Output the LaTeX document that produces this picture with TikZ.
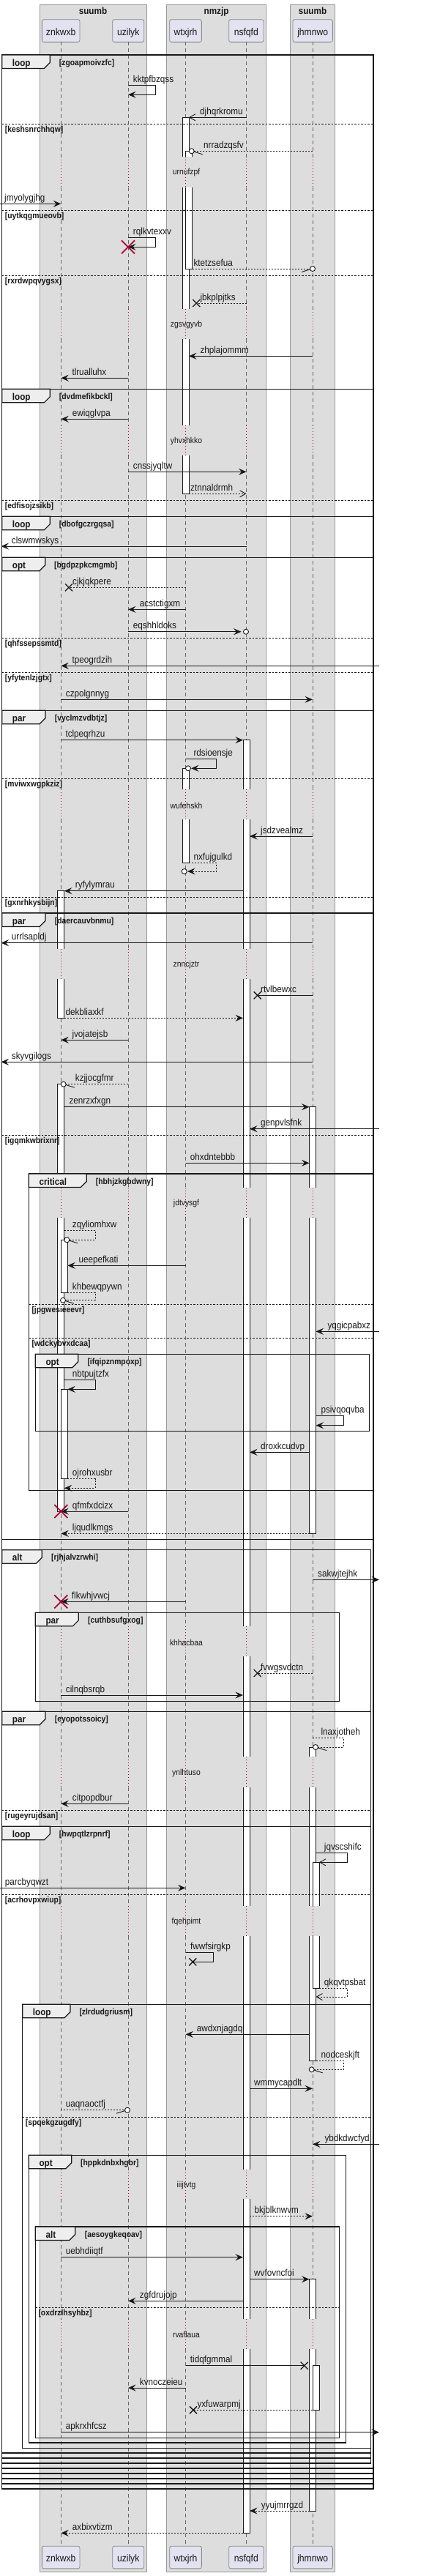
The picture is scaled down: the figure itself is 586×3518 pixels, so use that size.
\documentclass[tikz,border=0pt]{standalone}
\usepackage{fontspec}
\setmainfont{Liberation Sans}[FakeStretch=0.9]
\usetikzlibrary{arrows.meta}
\definecolor{boxfill}{HTML}{DDDDDD}
\definecolor{boxline}{HTML}{999999}
\definecolor{partfill}{HTML}{E2E2F0}
\definecolor{partline}{HTML}{888888}
\definecolor{tabfill}{HTML}{EEEEEE}
\definecolor{lifecol}{HTML}{666666}
\definecolor{delaycol}{HTML}{A80036}
\definecolor{ink}{HTML}{181818}
\tikzset{
  lbl/.style={anchor=base west, inner sep=0pt, text=ink, font=\fontsize{13}{15}\selectfont},
  part/.style={draw=partline, fill=partfill, rounded corners=2.5pt, minimum height=30.7pt, inner sep=0pt, text height=12pt, text depth=0pt, font=\fontsize{13.5}{15}\selectfont, text=ink, line width=0.8pt},
  grptitle/.style={anchor=base, inner sep=0pt, font=\bfseries\fontsize{13}{15}\selectfont, text=ink},
  kw/.style={anchor=base west, inner sep=0pt, font=\bfseries\fontsize{13}{15}\selectfont, text=ink},
  guard/.style={anchor=base west, inner sep=0pt, font=\bfseries\fontsize{11.5}{13}\selectfont, text=ink},
  delaytxt/.style={inner sep=0pt, font=\fontsize{11.5}{13}\selectfont, text=ink},
  frameline/.style={draw=ink, line width=1.4pt},
  tabline/.style={draw=ink, line width=1.2pt, fill=tabfill},
  sepline/.style={draw=ink, line width=0.8pt, dash pattern=on 2.5pt off 2pt},
  lifeline/.style={draw=lifecol, line width=0.8pt, dash pattern=on 5pt off 4pt},
  delayline/.style={draw=delaycol, line width=0.9pt, dash pattern=on 1pt off 3pt},
  actbar/.style={draw=ink, fill=white, line width=0.9pt},
  msgline/.style={draw=ink, line width=0.9pt},
  dsh/.style={dash pattern=on 2pt off 2pt},
  fa/.style={-{Stealth[length=10.5pt,width=9pt,inset=4pt]}},
  oa/.style={-{Straight Barb[length=8pt,width=9pt]}},
}
\newcommand\mymsg[7]{%
  \coordinate (#1s) at (#2,#4);
  \coordinate (#1e) at (#3,#4);
  \draw[msgline,#5] (#1s) -- (#1e);
  \node[lbl] (#1l) at (#6,#4-4) {#7};
}
\newcommand\selfmsg[9]{%
  \coordinate (#1s) at (#2,#5);
  \coordinate (#1a) at (#3,#5);
  \coordinate (#1b) at (#3,#6);
  \coordinate (#1e) at (#4,#6);
  \draw[msgline,#7] (#1s) -- (#1a) -- (#1b) -- (#1e);
  \node[lbl] (#1l) at (#8,#5-4) {#9};
}
\newcommand\xmk[3]{%
  \coordinate (#1) at (#2,#3);
  \draw[msgline, line width=1.3pt] (#2-5,#3-5) -- (#2+5,#3+5) (#2-5,#3+5) -- (#2+5,#3-5);
}
\newcommand\redx[2]{\draw[draw=delaycol, line width=1.8pt] (#1-9,#2-9) -- (#1+9,#2+9) (#1-9,#2+9) -- (#1+9,#2-9);}
\newcommand\ocmk[2]{\draw[msgline, fill=white] (#1,#2) circle[radius=3.5];}
\newcommand\hbarb[3]{\draw[msgline] ({#1+#3*3.2},{#2+0.8}) -- ({#1+#3*15},{#2+4.5});}
\newcommand\abF[4]{\draw[actbar] (#1,#3) rectangle (#2,#4);}
\newcommand\abT[4]{\fill[white] (#1,#3) rectangle (#2,#4); \draw[actbar] (#1,#4) -- (#1,#3) -- (#2,#3) -- (#2,#4);}
\newcommand\abB[4]{\fill[white] (#1,#3) rectangle (#2,#4); \draw[actbar] (#1,#3) -- (#1,#4) -- (#2,#4) -- (#2,#3);}
\newcommand\abN[4]{\fill[white] (#1,#3) rectangle (#2,#4); \draw[actbar] (#1,#3) -- (#1,#4) (#2,#3) -- (#2,#4);}
\newcommand\myframe[9]{%
  \draw[frameline] (#2,#3) rectangle (#4,#5);
  \draw[tabline] (#2,#3) -- (#6,#3) -- (#6,#3+10.5) -- (#6-8,#3+18.5) -- (#2,#3+18.5) -- cycle;
  \node[kw] (#1k) at (#2+14,#3+15) {#7};
  \node[guard] (#1g) at (#8,#3+14) {#9};
}
\newcommand\frsep[5]{%
  \draw[sepline] (#2,#4) -- (#3,#4);
  \node[guard] (#1) at (#2+4,#4+11) {#5};
}
\begin{document}
\begin{tikzpicture}[x=1pt,y=-1pt]
\useasboundingbox (0,0) rectangle (586,3518);
\fill[white] (0,0) rectangle (586,3518);
% group boxes
\path[draw=boxline, fill=boxfill, line width=0.8pt] (54,6) rectangle (200,3512.7);
\path[draw=boxline, fill=boxfill, line width=0.8pt] (227.7,6) rectangle (363.3,3512.7);
\path[draw=boxline, fill=boxfill, line width=0.8pt] (396.3,6) rectangle (457.7,3512.7);
\node[grptitle] (g1) at (127,19.5) {suumb};
\node[grptitle] (g2) at (295.5,19.5) {nmzjp};
\node[grptitle] (g3) at (427,19.5) {suumb};
% participants
\node[part, minimum width=51.7pt] (pZt) at (83.2,42) {znkwxb};
\node[part, minimum width=43pt] (pUt) at (175.2,42) {uzilyk};
\node[part, minimum width=43.7pt] (pWt) at (253.5,42) {wtxjrh};
\node[part, minimum width=47.3pt] (pNt) at (336.3,42) {nsfqfd};
\node[part, minimum width=54.3pt] (pJt) at (427.2,42) {jhmnwo};
\node[part, minimum width=51.7pt] (pZb) at (83.2,3492.5) {znkwxb};
\node[part, minimum width=43pt] (pUb) at (175.2,3492.5) {uzilyk};
\node[part, minimum width=43.7pt] (pWb) at (253.5,3492.5) {wtxjrh};
\node[part, minimum width=47.3pt] (pNb) at (336.3,3492.5) {nsfqfd};
\node[part, minimum width=54.3pt] (pJb) at (427.2,3492.5) {jhmnwo};
% lifelines
\foreach \x in {83.3,175,253.5,336.5,427}{
  \foreach \a/\b in {57.3/214.3,256/422.3,463.3/580.7,621.7/1078.3,1119.3/1295.7,1336.7/1621.7,1663.3/2221,2262.3/2399.3,2440.7/2602.7,2644.3/2962.7,3003.3/3166.7,3208.3/3476.7}{
    \draw[lifeline] (\x,\a) -- (\x,\b);
  }
  \foreach \a/\b in {214.3/256,422.3/463.3,580.7/621.7,1078.3/1119.3,1295.7/1336.7,1621.7/1663.3,2221/2262.3,2399.3/2440.7,2602.7/2644.3,2962.7/3003.3,3166.7/3208.3}{
    \draw[delayline] (\x,\a) -- (\x,\b);
  }
}
% activation bars
\abT{249}{258}{160.3}{214.3}
\abN{249}{258}{256}{422.3}
\abN{249}{258}{463.3}{580.7}
\abB{249}{258}{621.7}{674.3}
\abT{253.5}{262.5}{206.3}{214.3}
\abB{253.5}{262.5}{256}{367}
\abT{249}{258}{1049.3}{1078.3}
\abB{249}{258}{1119.3}{1178.3}
\abT{332}{341}{1010.7}{1078.3}
\abN{332}{341}{1119.3}{1295.7}
\abN{332}{341}{1336.7}{1621.7}
\abN{332}{341}{1663.3}{2221}
\abN{332}{341}{2262.3}{2399.3}
\abN{332}{341}{2440.7}{2602.7}
\abN{332}{341}{2644.3}{2962.7}
\abN{332}{341}{3003.3}{3166.7}
\abB{332}{341}{3208.3}{3459.3}
\abT{78.8}{87.8}{1216.7}{1295.7}
\abB{78.8}{87.8}{1336.7}{1390.3}
\abT{78.8}{87.8}{1480.7}{1621.7}
\abB{78.8}{87.8}{1663.3}{2064}
\abF{83.3}{92.3}{1693.3}{1765}
\abF{83.3}{92.3}{1897.3}{2019.7}
\abT{422.5}{431.5}{1511.7}{1621.7}
\abB{422.5}{431.5}{1663.3}{2094.3}
\abT{422.5}{431.5}{2386}{2399.3}
\abN{422.5}{431.5}{2440.7}{2602.7}
\abB{422.5}{431.5}{2644.3}{2814.3}
\abT{422.5}{431.5}{3112.7}{3166.7}
\abB{422.5}{431.5}{3208.3}{3429}
\abT{427}{436}{2543.3}{2602.7}
\abB{427}{436}{2644.3}{2715}
\abF{427}{436}{3230.7}{3291.3}
% frames
\myframe{f1}{2.7}{75}{510}{3399}{68.3}{loop}{80.7}{[zgoapmoivzfc]}
\myframe{f2}{2.7}{531.3}{510}{3392}{68.3}{loop}{80.7}{[dvdmefikbckl]}
\myframe{f3}{2.7}{705.3}{510}{3385}{68.3}{loop}{80.7}{[dbofgczrgqsa]}
\myframe{f4}{2.7}{761.3}{510}{3378}{61.7}{opt}{74}{[bgdpzpkcmgmb]}
\myframe{f5}{2.7}{970.3}{510}{3371}{62}{par}{74.7}{[vyclmzvdbtjz]}
\myframe{f6}{2.7}{1247}{510}{2102.3}{62}{par}{74.7}{[daercauvbnmu]}
\myframe{f7}{39.3}{1603}{510}{2035.7}{118.3}{critical}{130.7}{[hbhjzkgbdwny]}
\myframe{f8}{48.3}{1849.3}{504.3}{1954.3}{106.7}{opt}{119.3}{[ifqipznmpoxp]}
\myframe{f9}{2.7}{2116.7}{506.7}{3364}{57.3}{alt}{70}{[rjhjalvzrwhi]}
\myframe{f10}{48.3}{2202.3}{463.3}{2323.3}{107.3}{par}{120}{[cuthbsufgxog]}
\myframe{f11}{2.7}{2337.3}{506.7}{3357}{62}{par}{74.7}{[eyopotssoicy]}
\myframe{f12}{2.7}{2494.3}{506.7}{3350}{68.3}{loop}{80.7}{[hwpqtlzrpnrf]}
\myframe{f13}{30.7}{2737.3}{506.7}{3343.3}{96}{loop}{108.3}{[zlrdudgriusm]}
\myframe{f14}{39.3}{2943.3}{472.7}{3336}{97.7}{opt}{110}{[hppkdnbxhgbr]}
\myframe{f15}{48.3}{3041}{463.3}{3329.3}{102.7}{alt}{115.7}{[aesoygkeqoav]}
% separators
\frsep{s1}{2.7}{510}{169.3}{[keshsnrchhqw]}
\frsep{s2}{2.7}{510}{287}{[uytkqgmueovb]}
\frsep{s3}{2.7}{510}{376}{[rxrdwpqvygsx]}
\frsep{s4}{2.7}{510}{683.3}{[edfisojzsikb]}
\frsep{s5}{2.7}{510}{871}{[qhfssepssmtd]}
\frsep{s6}{2.7}{510}{918.3}{[yfytenlzjgtx]}
\frsep{s7}{2.7}{510}{1063.3}{[mviwxwgpkziz]}
\frsep{s8}{2.7}{510}{1225.3}{[gxnrhkysbijn]}
\frsep{s9}{2.7}{510}{1550.3}{[igqmkwbrixnr]}
\frsep{s10}{39.3}{510}{1781.3}{[jpgwesieeevr]}
\frsep{s11}{39.3}{510}{1827.3}{[wdckybvxdcaa]}
\frsep{s12}{2.7}{506.7}{2472.3}{[rugeyrujdsan]}
\frsep{s13}{2.7}{506.7}{2587.7}{[acrhovpxwiup]}
\frsep{s14}{30.7}{506.7}{2891.3}{[spqekgzugdfy]}
\frsep{s15}{48.3}{463.3}{3151.3}{[oxdrzlhsyhbz]}
% delay texts
\node[delaytxt] (d1) at (254.5,236) {urnufzpf};
\node[delaytxt] (d2) at (254.5,444) {zgsvgyvb};
\node[delaytxt] (d3) at (254.5,602.3) {yhvxhkko};
\node[delaytxt] (d4) at (254.5,1100) {wufehskh};
\node[delaytxt] (d5) at (254.5,1317.3) {znncjztr};
\node[delaytxt] (d6) at (254.5,1643.3) {jdtvysgf};
\node[delaytxt] (d7) at (254.5,2243.3) {khhacbaa};
\node[delaytxt] (d8) at (254.5,2421) {ynlhtuso};
\node[delaytxt] (d9) at (254.5,2624.3) {fqehpimt};
\node[delaytxt] (d10) at (254.5,2984.3) {iiijtvtg};
\node[delaytxt] (d11) at (254.5,3188.3) {rvaflaua};
% messages
\selfmsg{m1}{175}{212.7}{175}{116.3}{129.3}{fa}{181.7}{kktpfbzqss}
\mymsg{m2}{336.5}{258}{160.3}{oa}{273}{djhqrkromu}
\mymsg{m3}{427}{265.2}{206.3}{dsh}{278}{nrradzqsfv}
\ocmk{261.7}{206.3}\hbarb{261.7}{206.3}{1}
\mymsg{m4}{0}{83.3}{278.3}{fa}{6}{jmyolygjhg}
\selfmsg{m5}{175}{212.7}{175}{324.3}{337.3}{fa}{181.7}{rqlkvtexxv}
\redx{175}{337.3}
\mymsg{m6}{262.5}{423.5}{367}{dsh}{264.3}{ktetzsefua}
\ocmk{427}{367}\hbarb{427}{367}{-1}
\mymsg{m7}{336.5}{268.3}{414}{dsh}{273.3}{jbkplpjtks}
\xmk{x7}{268.3}{414}
\mymsg{m8}{427}{258}{486.3}{fa}{273.3}{zhplajommm}
\mymsg{m9}{175}{83.3}{516.3}{fa}{98.3}{tlrualluhx}
\mymsg{m10}{175}{83.3}{572.3}{fa}{98.7}{ewiqglvpa}
\mymsg{m11}{175}{336.5}{644.3}{fa}{181.7}{cnssjyqltw}
\mymsg{m12}{258}{336.5}{674.3}{dsh,oa}{260}{ztnnaldrmh}
\mymsg{m13}{336.5}{1.5}{746}{fa}{15.7}{clswmwskys}
\mymsg{m14}{253.5}{94}{802.3}{dsh}{99}{cjkjqkpere}
\xmk{x14}{94}{802.3}
\mymsg{m15}{253.5}{175}{832.3}{fa}{190.7}{acstctigxm}
\mymsg{m16}{175}{329.5}{862.7}{fa}{181.7}{eqshhldoks}
\ocmk{336}{862.7}
\mymsg{m17}{518}{83.3}{909.3}{fa}{98.3}{tpeogrdzih}
\mymsg{m18}{83.3}{427}{955.3}{fa}{89.7}{czpolgnnyg}
\mymsg{m19}{83.3}{332}{1010.7}{fa}{89.3}{tclpeqrhzu}
\selfmsg{m20}{253.5}{295.7}{261}{1036.7}{1049.3}{fa}{264.3}{rdsioensje}
\ocmk{257}{1049.3}
\mymsg{m21}{427}{341}{1142}{fa}{356}{jsdzvealmz}
\selfmsg{m22}{258}{295.7}{256}{1178.3}{1190}{dsh,fa}{264.3}{nxfujgulkd}
\ocmk{251.7}{1190}
\mymsg{m23}{332}{87.8}{1216.7}{fa}{102.7}{ryfylymrau}
\mymsg{m24}{427}{1.5}{1287.7}{fa}{15.7}{urrlsapldj}
\mymsg{m25}{427}{351.7}{1359.3}{}{356}{rtvlbewxc}
\xmk{x25}{351.7}{1359.3}
\mymsg{m26}{87.8}{332}{1390.3}{dsh,fa}{89.3}{dekbliaxkf}
\mymsg{m27}{175}{83.3}{1420.3}{fa}{98.3}{jvojatejsb}
\mymsg{m28}{427}{1.5}{1450.3}{fa}{15.7}{skyvgilogs}
\mymsg{m29}{175}{90.2}{1480.7}{dsh}{102.7}{kzjjocgfmr}
\ocmk{86.7}{1480.7}\hbarb{86.7}{1480.7}{1}
\mymsg{m30}{87.8}{422.5}{1511.7}{fa}{94.3}{zenrzxfxgn}
\mymsg{m31}{518}{341}{1541.7}{fa}{356}{genpvlsfnk}
\mymsg{m32}{253.5}{422.5}{1588.3}{fa}{259.7}{ohxdntebbb}
\selfmsg{m33}{87.8}{130}{94.8}{1680.3}{1693.3}{dsh}{98.7}{zqyliomhxw}
\ocmk{91.3}{1693.3}\hbarb{91.3}{1693.3}{1}
\mymsg{m34}{253.5}{92.3}{1728.3}{fa}{107.3}{ueepefkati}
\selfmsg{m35}{92.3}{130}{89.5}{1765}{1775.7}{dsh}{98.7}{khbewqpywn}
\ocmk{86}{1775.7}\hbarb{86}{1775.7}{1}
\mymsg{m36}{518}{431.5}{1818.3}{fa}{447.3}{yqgicpabxz}
\selfmsg{m37}{87.8}{130}{92.3}{1884.7}{1897.3}{fa}{98.7}{nbtpujtzfx}
\selfmsg{m38}{431.5}{469.3}{431.5}{1933.3}{1946.7}{fa}{438.3}{psivqoqvba}
\mymsg{m39}{422.5}{341}{1983.3}{fa}{356}{droxkcudvp}
\selfmsg{m40}{92.3}{130}{87.8}{2019.7}{2032.3}{dsh,fa}{98.7}{ojrohxusbr}
\mymsg{m41}{175}{83.3}{2064}{fa}{98.7}{qfmfxdcizx}
\redx{83.3}{2064}
\mymsg{m42}{422.5}{83.3}{2094.3}{dsh,fa}{98.7}{ljqudlkmgs}
\mymsg{m43}{427}{518}{2157.3}{fa}{434}{sakwjtejhk}
\mymsg{m44}{253.5}{83.3}{2187.3}{fa}{97.7}{flkwhjvwcj}
\redx{83.3}{2187.3}
\mymsg{m45}{427}{351.7}{2285}{dsh}{356}{fvwgsvdctn}
\xmk{x45}{351.7}{2285}
\mymsg{m46}{83.3}{332}{2315}{fa}{89.7}{cilnqbsrqb}
\selfmsg{m47}{427}{469.3}{434.5}{2373.3}{2386}{dsh}{438.3}{lnaxjotheh}
\ocmk{431}{2386}\hbarb{431}{2386}{1}
\mymsg{m48}{175}{83.3}{2463.3}{fa}{98.7}{citpopdbur}
\selfmsg{m49}{431.5}{474}{436}{2530.7}{2543.3}{oa}{442.7}{jqvscshifc}
\mymsg{m50}{0}{253.5}{2578.3}{fa}{6.7}{parcbyqwzt}
\selfmsg{m51}{253.5}{291}{263.3}{2666.7}{2679.3}{}{260}{fwwfsirgkp}
\xmk{x51}{263.3}{2679.3}
\selfmsg{m52}{436}{474}{431.5}{2715}{2727}{dsh,oa}{442.7}{qkqvtpsbat}
\mymsg{m53}{422.5}{253.5}{2778.3}{fa}{268.7}{awdxnjagdq}
\selfmsg{m54}{431.5}{469.3}{429.2}{2814.3}{2826.3}{dsh}{438.3}{nodceskjft}
\ocmk{425.7}{2826.3}\hbarb{425.7}{2826.3}{1}
\mymsg{m55}{341}{427}{2852.3}{fa}{347}{wmmycapdlt}
\mymsg{m56}{83.3}{170.5}{2881.7}{dsh}{89.7}{uaqnaoctfj}
\ocmk{174}{2881.7}\hbarb{174}{2881.7}{-1}
\mymsg{m57}{518}{427}{2928.3}{fa}{443.3}{ybdkdwcfyd}
\mymsg{m58}{341}{427}{3026.7}{dsh,fa}{347.3}{bkjblknwvm}
\mymsg{m59}{83.3}{332}{3082.7}{fa}{89.7}{uebhdiiqtf}
\mymsg{m60}{341}{422.5}{3112.7}{fa}{347}{wvfovncfoi}
\mymsg{m61}{332}{175}{3142.3}{fa}{190.7}{zgfdrujojp}
\mymsg{m62}{253.5}{415.7}{3230.7}{}{259.7}{tidqfgmmal}
\xmk{x62}{415.7}{3230.7}
\mymsg{m63}{253.5}{175}{3261}{fa}{190.7}{kvnoczeieu}
\mymsg{m64}{427}{264}{3291.3}{dsh}{269.3}{yxfuwarpmj}
\xmk{x64}{264}{3291.3}
\mymsg{m65}{83.3}{518}{3321.7}{fa}{89.7}{apkrxhfcsz}
\mymsg{m66}{422.5}{341}{3429}{dsh,fa}{356.7}{yyujmrrgzd}
\mymsg{m67}{332}{83.3}{3459.3}{dsh,fa}{98.7}{axbixvtizm}
\end{tikzpicture}
\end{document}
